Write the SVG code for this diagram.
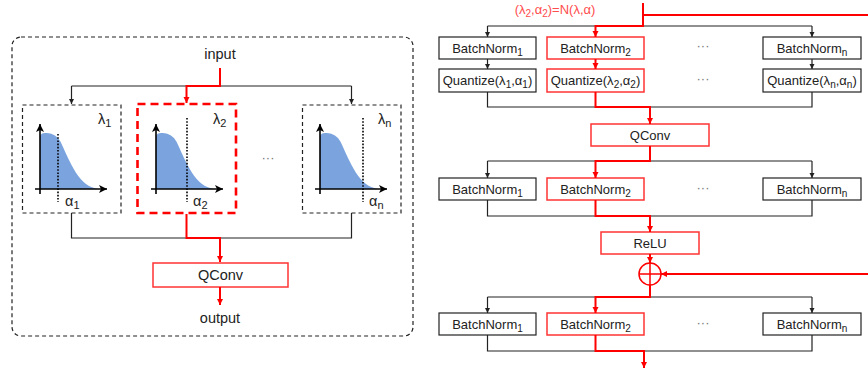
<svg xmlns="http://www.w3.org/2000/svg" width="868" height="371" viewBox="0 0 868 371">
<style>
text{font-family:"Liberation Sans",Arial,sans-serif;fill:#222}
.l{font-size:14.5px}
.r{font-size:13px}
.s{font-size:10px}
.ls{font-size:11px}
.box{fill:#fff;stroke:#222;stroke-width:1.2}
.rbox{fill:#fff;stroke:#f33;stroke-width:1.5}
.blk{fill:none;stroke:#222;stroke-width:1.2}
.red{fill:none;stroke:#f00;stroke-width:2}
.dash{fill:none;stroke:#222;stroke-width:1.2;stroke-dasharray:4 3}
.rdash{fill:none;stroke:#f00;stroke-width:2.6;stroke-dasharray:8 5}
.ax{fill:none;stroke:#000;stroke-width:1.6}
.dot{fill:none;stroke:#000;stroke-width:1.6;stroke-dasharray:1.6 1.6}
.curve{fill:#7ba4df}
text.dots{font-size:13px;fill:#777}
</style>
<defs>
<marker id="ab" markerUnits="userSpaceOnUse" markerWidth="6" markerHeight="6" refX="5" refY="3" orient="auto"><path d="M0,0.5 L5,3 L0,5.5 z" fill="#222"/></marker>
<marker id="ar" markerUnits="userSpaceOnUse" markerWidth="7" markerHeight="7" refX="6" refY="3.5" orient="auto"><path d="M0,0.5 L6,3.5 L0,6.5 z" fill="#f00"/></marker>
<marker id="ax" markerUnits="userSpaceOnUse" markerWidth="9" markerHeight="8" refX="8" refY="4" orient="auto"><path d="M0,0 L8,4 L0,8 L2,4 z" fill="#000"/></marker>
<symbol id="chart" overflow="visible">
<path class="curve" d="M0,189 V136 Q1,133 5,133 C10,133 14,134 18,138 C22,143 24,150 28,158 C33,168 38,178 46,184 C50,187 54,188 58,189 Z"/>
<path class="ax" d="M0,194 V124" marker-end="url(#ax)"/>
<path class="ax" d="M-5,189 H67" marker-end="url(#ax)"/>
</symbol>
</defs>

<g id="left-panel">
<rect x="12" y="37" width="401" height="299" rx="9" class="dash"/>
</g>
<g id="input"><text class="l" x="220" y="59" text-anchor="middle">input</text></g>

<g id="branch1">
<rect x="22.5" y="105" width="98.5" height="108" class="dash"/>
<use href="#chart" x="40" y="0"/>
<path class="dot" d="M58,134 V202"/>
<text class="l" x="98" y="124">λ<tspan class="ls" dy="3">1</tspan></text>
<text class="l" x="65" y="206">α<tspan class="ls" dy="3">1</tspan></text>
</g>
<g id="branch2">
<rect x="137.5" y="104" width="98.5" height="109" class="rdash"/>
<use href="#chart" x="156" y="0"/>
<path class="dot" d="M187,118 V202"/>
<text class="l" x="213" y="124">λ<tspan class="ls" dy="3">2</tspan></text>
<text class="l" x="193" y="206">α<tspan class="ls" dy="3">2</tspan></text>
</g>
<g id="branchn">
<rect x="302.5" y="105" width="98.5" height="108" class="dash"/>
<use href="#chart" x="320" y="0"/>
<path class="dot" d="M363,118 V202"/>
<text class="l" x="378" y="124">λ<tspan class="ls" dy="3">n</tspan></text>
<text class="l" x="369" y="206">α<tspan class="ls" dy="3">n</tspan></text>
</g>
<g id="left-dots"><text class="dots" x="268" y="162" text-anchor="middle">···</text></g>
<g id="qconv-left">
<rect x="153" y="263" width="135" height="24" class="rbox"/>
<text class="l" x="220.5" y="280" text-anchor="middle">QConv</text>
</g>
<g id="output"><text class="l" x="220" y="323" text-anchor="middle">output</text></g>

<g id="label-n"><text class="r" x="555" y="14" text-anchor="middle" style="fill:#ff4d4d">(λ<tspan class="s" dy="3" style="fill:#ff4d4d">2</tspan><tspan dy="-3" style="fill:#ff4d4d">,α</tspan><tspan class="s" dy="3" style="fill:#ff4d4d">2</tspan><tspan dy="-3" style="fill:#ff4d4d">)=N(λ,α)</tspan></text></g>

<g id="bn1-a"><rect x="439" y="37" width="97" height="22" class="box"/><text class="r" x="487.5" y="52.5" text-anchor="middle">BatchNorm<tspan class="s" dy="3">1</tspan></text></g>
<g id="bn2-a"><rect x="547" y="37" width="97" height="22" class="rbox"/><text class="r" x="595.5" y="52.5" text-anchor="middle">BatchNorm<tspan class="s" dy="3">2</tspan></text></g>
<g id="bnn-a"><rect x="763" y="37" width="98" height="22" class="box"/><text class="r" x="812" y="52.5" text-anchor="middle">BatchNorm<tspan class="s" dy="3">n</tspan></text></g>
<g id="q1"><rect x="439" y="69" width="97" height="23" class="box"/><text class="r" x="487.5" y="85" text-anchor="middle">Quantize(λ<tspan class="s" dy="3">1</tspan><tspan dy="-3">,α</tspan><tspan class="s" dy="3">1</tspan><tspan dy="-3">)</tspan></text></g>
<g id="q2"><rect x="547" y="69" width="97" height="23" class="rbox"/><text class="r" x="595.5" y="85" text-anchor="middle">Quantize(λ<tspan class="s" dy="3">2</tspan><tspan dy="-3">,α</tspan><tspan class="s" dy="3">2</tspan><tspan dy="-3">)</tspan></text></g>
<g id="qn"><rect x="763" y="69" width="98" height="23" class="box"/><text class="r" x="812" y="85" text-anchor="middle">Quantize(λ<tspan class="s" dy="3">n</tspan><tspan dy="-3">,α</tspan><tspan class="s" dy="3">n</tspan><tspan dy="-3">)</tspan></text></g>
<g id="dots-a"><text class="dots" x="703" y="50" text-anchor="middle">···</text><text class="dots" x="703" y="83" text-anchor="middle">···</text></g>

<g id="qconv-right"><rect x="591" y="124" width="118" height="22" class="rbox"/><text class="r" x="650" y="139.5" text-anchor="middle">QConv</text></g>

<g id="bn1-b"><rect x="439" y="178" width="97" height="22" class="box"/><text class="r" x="487.5" y="193.5" text-anchor="middle">BatchNorm<tspan class="s" dy="3">1</tspan></text></g>
<g id="bn2-b"><rect x="547" y="178" width="97" height="22" class="rbox"/><text class="r" x="595.5" y="193.5" text-anchor="middle">BatchNorm<tspan class="s" dy="3">2</tspan></text></g>
<g id="bnn-b"><rect x="763" y="178" width="98" height="22" class="box"/><text class="r" x="812" y="193.5" text-anchor="middle">BatchNorm<tspan class="s" dy="3">n</tspan></text></g>
<g id="dots-b"><text class="dots" x="703" y="192" text-anchor="middle">···</text></g>

<g id="relu"><rect x="601" y="232" width="98" height="22" class="rbox"/><text class="r" x="650" y="247.5" text-anchor="middle">ReLU</text></g>
<g id="add"><circle cx="650" cy="274" r="11" fill="#fff" stroke="#f00" stroke-width="1.5"/><path d="M639,274 H661 M650,263 V285" stroke="#f00" stroke-width="1.5"/></g>

<g id="bn1-c"><rect x="439" y="313" width="97" height="22" class="box"/><text class="r" x="487.5" y="328.5" text-anchor="middle">BatchNorm<tspan class="s" dy="3">1</tspan></text></g>
<g id="bn2-c"><rect x="547" y="313" width="97" height="22" class="rbox"/><text class="r" x="595.5" y="328.5" text-anchor="middle">BatchNorm<tspan class="s" dy="3">2</tspan></text></g>
<g id="bnn-c"><rect x="763" y="313" width="98" height="22" class="box"/><text class="r" x="812" y="328.5" text-anchor="middle">BatchNorm<tspan class="s" dy="3">n</tspan></text></g>
<g id="dots-c"><text class="dots" x="703" y="327" text-anchor="middle">···</text></g>

<g id="connectors">
<path class="blk" d="M71.5,86 H351.5"/>
<path class="blk" d="M71.5,86 V104" marker-end="url(#ab)"/>
<path class="blk" d="M351.5,86 V104" marker-end="url(#ab)"/>
<path class="red" d="M220,68 V86 H186.5 V103" marker-end="url(#ar)"/>
<path class="blk" d="M71.5,213 V238 H351.5 V213"/>
<path class="red" d="M186.5,214 V238 H220 V262" marker-end="url(#ar)"/>
<path class="red" d="M220,287 V305" marker-end="url(#ar)"/>
<path class="red" d="M643,15 H868"/>
<path class="blk" d="M487.5,26 H812"/>
<path class="blk" d="M487.5,26 V37" marker-end="url(#ab)"/>
<path class="blk" d="M812,26 V37" marker-end="url(#ab)"/>
<path class="red" d="M643,3 V26 H595.5 V37" marker-end="url(#ar)"/>
<path class="blk" d="M487.5,59 V69" marker-end="url(#ab)"/>
<path class="blk" d="M812,59 V69" marker-end="url(#ab)"/>
<path class="red" d="M595.5,59 V69" marker-end="url(#ar)"/>
<path class="blk" d="M487.5,92 V107 H812 V92"/>
<path class="red" d="M595.5,92 V107 H650 V124" marker-end="url(#ar)"/>
<path class="blk" d="M487.5,161 H812"/>
<path class="blk" d="M487.5,161 V178" marker-end="url(#ab)"/>
<path class="blk" d="M812,161 V178" marker-end="url(#ab)"/>
<path class="red" d="M650,146 V161 H595.5 V178" marker-end="url(#ar)"/>
<path class="blk" d="M487.5,200 V216 H812 V200"/>
<path class="red" d="M595.5,200 V216 H650 V232" marker-end="url(#ar)"/>
<path class="red" d="M650,254 V263" marker-end="url(#ar)"/>
<path class="red" d="M868,274 H661" marker-end="url(#ar)"/>
<path class="blk" d="M487.5,297 H812"/>
<path class="blk" d="M487.5,297 V313" marker-end="url(#ab)"/>
<path class="blk" d="M812,297 V313" marker-end="url(#ab)"/>
<path class="red" d="M650,285 V297 H595.5 V313" marker-end="url(#ar)"/>
<path class="blk" d="M487.5,335 V351 H812 V335"/>
<path class="red" d="M595.5,335 V351 H644 V368" marker-end="url(#ar)"/>
</g>
</svg>
